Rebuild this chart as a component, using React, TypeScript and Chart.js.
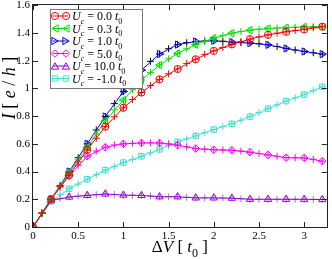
import React, { useEffect, useRef } from 'react';
import { Chart, registerables } from 'chart.js';
Chart.register(...registerables);

// bias points carrying the open markers (every 0.2 t0)
const xMarks = [0, 0.2, 0.4, 0.6, 0.8, 1.0, 1.2, 1.4, 1.6, 1.8, 2.0, 2.2, 2.4, 2.6, 2.8, 3.0, 3.2];
// bias points carrying only "+" markers (in between)
const xPlus = [0.1, 0.3, 0.5, 0.7, 0.9, 1.1, 1.3, 1.5, 1.7, 1.9, 2.1, 2.3, 2.5, 2.7, 2.9, 3.1];

const uLabels = ['0.0', '0.3', '1.0', '5.0', '10.0', '-1.0'];

const iU00 = [0, 0.2, 0.374, 0.557, 0.724, 0.86, 0.97, 1.065, 1.14, 1.21, 1.27, 1.317, 1.355, 1.386, 1.408, 1.425, 1.445];
const iU03 = [0, 0.2, 0.39, 0.575, 0.765, 0.916, 1.06, 1.168, 1.252, 1.315, 1.362, 1.398, 1.42, 1.432, 1.438, 1.443, 1.445];
const iU10 = [0, 0.2, 0.4, 0.6, 0.797, 0.978, 1.132, 1.248, 1.316, 1.338, 1.343, 1.334, 1.327, 1.314, 1.288, 1.266, 1.247];
const iU50 = [0, 0.2, 0.37, 0.51, 0.575, 0.6, 0.606, 0.606, 0.59, 0.566, 0.557, 0.554, 0.54, 0.52, 0.5, 0.498, 0.475];
const iU100 = [0, 0.19, 0.216, 0.228, 0.238, 0.23, 0.228, 0.218, 0.218, 0.21, 0.21, 0.208, 0.2, 0.2, 0.2, 0.2, 0.198];
const iUm10 = [0, 0.185, 0.276, 0.345, 0.41, 0.465, 0.51, 0.56, 0.614, 0.657, 0.703, 0.744, 0.796, 0.854, 0.908, 0.955, 1.012];

const pU00 = [0.1, 0.29, 0.47, 0.64, 0.795, 0.92, 1.02, 1.105, 1.18, 1.245, 1.295, 1.337, 1.372, 1.398, 1.418, 1.437];
const pU03 = [0.1, 0.295, 0.485, 0.67, 0.845, 0.99, 1.115, 1.213, 1.285, 1.34, 1.382, 1.41, 1.427, 1.436, 1.441, 1.444];
const pU10 = [0.1, 0.3, 0.5, 0.7, 0.89, 1.06, 1.195, 1.286, 1.33, 1.342, 1.34, 1.33, 1.322, 1.302, 1.277, 1.257];
const pU50 = [0.1, 0.29, 0.445, 0.548, 0.592, 0.604, 0.607, 0.6, 0.578, 0.561, 0.556, 0.548, 0.53, 0.51, 0.5, 0.488];
const pU100 = [0.1, 0.205, 0.223, 0.233, 0.235, 0.229, 0.224, 0.218, 0.214, 0.21, 0.209, 0.204, 0.2, 0.2, 0.2, 0.199];
const pUm10 = [0.1, 0.235, 0.31, 0.378, 0.438, 0.488, 0.535, 0.587, 0.636, 0.68, 0.724, 0.77, 0.825, 0.881, 0.932, 0.984];

const xTicks = [0, 0.5, 1, 1.5, 2, 2.5, 3];
const yTicks = [0, 0.2, 0.4, 0.6, 0.8, 1, 1.2, 1.4, 1.6];

const SERIF = '"Liberation Serif", "DejaVu Serif", serif';

type Series = {
  label: string;
  marks: number[];
  plus: number[];
  color: string;
  plusColor: string;
  style: string;
  rot: number;
  r: number;
};

const series: Series[] = [
  { label: uLabels[0], marks: iU00, plus: pU00, color: '#ff0000', plusColor: '#ff0000', style: 'circle', rot: 0, r: 3.6 },
  { label: uLabels[1], marks: iU03, plus: pU03, color: '#00e000', plusColor: '#00e000', style: 'triangle', rot: -90, r: 4.2 },
  { label: uLabels[2], marks: iU10, plus: pU10, color: '#0000ff', plusColor: '#000000', style: 'triangle', rot: 90, r: 4.2 },
  { label: uLabels[3], marks: iU50, plus: pU50, color: '#ff00ff', plusColor: '#ff00ff', style: 'rectRot', rot: 0, r: 3.8 },
  { label: uLabels[4], marks: iU100, plus: pU100, color: '#9400d3', plusColor: '#b070e0', style: 'triangle', rot: 0, r: 4.2 },
  { label: uLabels[5], marks: iUm10, plus: pUm10, color: '#40e0d0', plusColor: '#40e0d0', style: 'rect', rot: 0, r: 3.8 },
];

type Run = { t: string; it?: boolean; sub?: boolean };

function runFont(r: Run, size: number) {
  const s = r.sub ? Math.round(size * 0.68) : size;
  return `${r.it ? 'italic ' : ''}${s}px ${SERIF}`;
}

function measureRuns(ctx: CanvasRenderingContext2D, runs: Run[], size: number) {
  let w = 0;
  for (const r of runs) {
    ctx.font = runFont(r, size);
    w += ctx.measureText(r.t).width;
  }
  return w;
}

function drawRuns(ctx: CanvasRenderingContext2D, runs: Run[], x: number, y: number, size: number) {
  let cx = x;
  ctx.textBaseline = 'alphabetic';
  ctx.textAlign = 'left';
  for (const r of runs) {
    ctx.font = runFont(r, size);
    ctx.fillText(r.t, cx, r.sub ? y + size * 0.3 : y);
    cx += ctx.measureText(r.t).width;
  }
  return cx - x;
}

function drawMarker(ctx: CanvasRenderingContext2D, s: Series, x: number, y: number) {
  ctx.save();
  ctx.strokeStyle = s.color;
  ctx.lineWidth = 1;
  ctx.translate(x, y);
  ctx.rotate((s.rot * Math.PI) / 180);
  ctx.beginPath();
  const r = s.r;
  if (s.style === 'circle') {
    ctx.arc(0, 0, r, 0, Math.PI * 2);
  } else if (s.style === 'triangle') {
    const a = -Math.PI / 2;
    for (let k = 0; k < 3; k++) {
      const ang = a + (k * 2 * Math.PI) / 3;
      const px = r * Math.cos(ang);
      const py = r * Math.sin(ang) + r * 0.25;
      if (k === 0) ctx.moveTo(px, py);
      else ctx.lineTo(px, py);
    }
    ctx.closePath();
  } else if (s.style === 'rect') {
    const h = r * Math.SQRT1_2;
    ctx.rect(-h, -h, 2 * h, 2 * h);
  } else if (s.style === 'rectRot') {
    ctx.moveTo(0, -r);
    ctx.lineTo(r, 0);
    ctx.lineTo(0, r);
    ctx.lineTo(-r, 0);
    ctx.closePath();
  }
  ctx.stroke();
  ctx.restore();
}

const decorPlugin = {
  id: 'decor',
  afterDraw(chart: any) {
    const ctx: CanvasRenderingContext2D = chart.ctx;
    const { left, right, top, bottom } = chart.chartArea;
    const xs = chart.scales.x;
    const ys = chart.scales.y;
    ctx.save();
    // frame
    ctx.strokeStyle = '#222';
    ctx.lineWidth = 1;
    ctx.strokeRect(Math.round(left) - 0.5, Math.round(top) - 0.5, Math.round(right - left) + 1, Math.round(bottom - top) + 1);
    // inward ticks
    ctx.beginPath();
    for (const v of xTicks) {
      const px = Math.round(xs.getPixelForValue(v)) + 0.5;
      ctx.moveTo(px, bottom);
      ctx.lineTo(px, bottom - 5);
      ctx.moveTo(px, top);
      ctx.lineTo(px, top + 5);
    }
    for (const v of yTicks) {
      const py = Math.round(ys.getPixelForValue(v)) + 0.5;
      ctx.moveTo(left, py);
      ctx.lineTo(left + 5, py);
      ctx.moveTo(right, py);
      ctx.lineTo(right - 5, py);
    }
    ctx.stroke();

    ctx.fillStyle = '#000';
    // x title
    const xRuns: Run[] = [{ t: 'Δ' }, { t: 'V', it: true }, { t: ' [ ' }, { t: 't', it: true }, { t: '0', sub: true }, { t: ' ]' }];
    const xSize = 17;
    const xw = measureRuns(ctx, xRuns, xSize);
    drawRuns(ctx, xRuns, (left + right) / 2 - xw / 2, 252, xSize);

    // y title
    const yRuns: Run[] = [{ t: 'I', it: true }, { t: ' [ ' }, { t: 'e', it: true }, { t: ' / ' }, { t: 'h', it: true }, { t: ' ]' }];
    const ySize = 18;
    const yw = measureRuns(ctx, yRuns, ySize);
    ctx.save();
    ctx.translate(15, 88);
    ctx.rotate(-Math.PI / 2);
    drawRuns(ctx, yRuns, -yw / 2, 0, ySize);
    ctx.restore();

    // legend
    const bx = 50, by = 9, bw = 92, bh = 79;
    ctx.fillStyle = '#fff';
    ctx.fillRect(bx, by, bw, bh);
    ctx.strokeStyle = '#777';
    ctx.strokeRect(bx + 0.5, by + 0.5, bw, bh);
    const lSize = 12;
    series.forEach((s, i) => {
      const cy = 16 + i * 12.5;
      ctx.strokeStyle = s.color;
      ctx.lineWidth = 1;
      ctx.beginPath();
      ctx.moveTo(53, cy);
      ctx.lineTo(68, cy);
      ctx.stroke();
      drawMarker(ctx, s, 55, cy);
      drawMarker(ctx, s, 66, cy);
      ctx.fillStyle = '#000';
      const eq = s.label === '10.0' ? '= ' : ' = ';
      drawRuns(
        ctx,
        [{ t: 'U', it: true }, { t: 'c', it: true, sub: true }, { t: eq + s.label + ' ' }, { t: 't', it: true }, { t: '0', sub: true }],
        72,
        cy + 4,
        lSize
      );
    });
    ctx.restore();
  },
};

function fmt(v: number) {
  return String(Math.round(v * 10) / 10);
}

export default function App() {
  const ref = useRef<HTMLCanvasElement | null>(null);
  useEffect(() => {
    document.body.style.margin = '0';
    const canvas = ref.current;
    if (!canvas) return;
    const datasets: any[] = [];
    series.forEach((s) => {
      datasets.push({
        label: s.label,
        data: xMarks.map((x, i) => ({ x, y: s.marks[i] })),
        borderColor: s.color,
        borderWidth: 1,
        backgroundColor: 'transparent',
        pointStyle: s.style,
        pointRotation: s.rot,
        pointRadius: s.r,
        pointBorderWidth: 1,
        pointBorderColor: s.color,
        pointBackgroundColor: 'rgba(0,0,0,0)',
        fill: false,
        tension: 0,
      });
      const pts = [
        ...xMarks.slice(1).map((x, i) => ({ x, y: s.marks[i + 1] })),
        ...xPlus.map((x, i) => ({ x, y: s.plus[i] })),
      ];
      datasets.push({
        label: s.label + ' +',
        data: pts,
        showLine: false,
        pointStyle: 'cross',
        pointRadius: 3.5,
        pointBorderWidth: 1,
        pointBorderColor: s.plusColor,
        borderColor: s.plusColor,
        backgroundColor: 'transparent',
      });
    });
    const chart = new Chart(canvas, {
      type: 'line',
      data: { datasets },
      plugins: [decorPlugin],
      options: {
        animation: false,
        responsive: false,
        devicePixelRatio: 1,
        layout: { padding: { top: 4, right: 1, left: 0, bottom: 0 } },
        plugins: { legend: { display: false }, tooltip: { enabled: false } },
        scales: {
          x: {
            type: 'linear',
            min: 0,
            max: 3.25,
            afterBuildTicks: (sc: any) => {
              sc.ticks = xTicks.map((v) => ({ value: v }));
            },
            ticks: { callback: (v: any) => fmt(Number(v)), font: { size: 11, family: SERIF }, color: '#000', padding: 3, maxRotation: 0, autoSkip: false },
            grid: { display: false, drawTicks: false },
            border: { display: false },
            afterFit: (sc: any) => {
              sc.height = 32;
              sc.paddingLeft = 0;
              sc.paddingRight = 0;
            },
          },
          y: {
            type: 'linear',
            min: 0,
            max: 1.6,
            afterBuildTicks: (sc: any) => {
              sc.ticks = yTicks.map((v) => ({ value: v }));
            },
            ticks: { callback: (v: any) => fmt(Number(v)), font: { size: 11, family: SERIF }, color: '#000', padding: 3, autoSkip: false },
            grid: { display: false, drawTicks: false },
            border: { display: false },
            afterFit: (sc: any) => {
              sc.width = 33;
              sc.paddingTop = 0;
              sc.paddingBottom = 0;
            },
          },
        },
      } as any,
    });
    return () => chart.destroy();
  }, []);
  return (
    <div style={{ position: 'absolute', left: 0, top: 0, width: 332, height: 259 }}>
      <canvas ref={ref} width={332} height={259} style={{ display: 'block' }} />
    </div>
  );
}
